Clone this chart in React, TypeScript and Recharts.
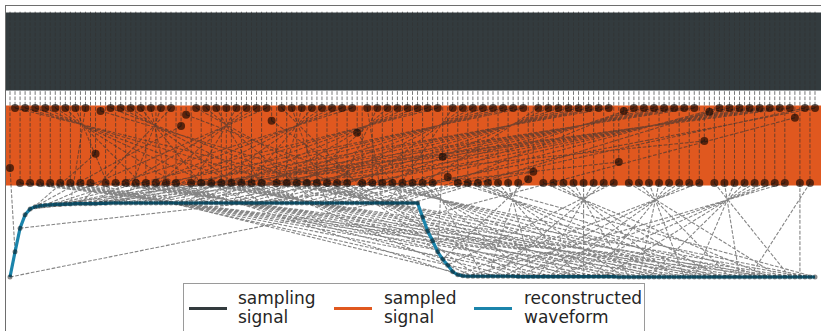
import React from 'react';
import { ComposedChart, XAxis, YAxis, Line, Scatter, ReferenceArea } from 'recharts';

// sample i is drawn at x = i, reconstructed position k at x = k
// sampled signal value per sample (1 = high level, 0 = low level)
const sampleValues = [
  0.2, 1, 0, 1, 0, 1, 0, 1, 0, 1, 0, 1, 0, 1, 0, 1, 0, 0.39, 0.96, 0,
  1, 0, 1, 0, 1, 0, 1, 0, 1, 0, 1, 0, 1, 0, 0.76, 0.91, 0, 1, 0, 1,
  0, 1, 0, 1, 0, 1, 0, 1, 0, 1, 0, 1, 0.83, 0, 1, 0, 1, 0, 1, 0,
  1, 0, 1, 0, 1, 0, 1, 0, 1, 0.67, 0, 1, 0, 1, 0, 1, 0, 1, 0, 1,
  0, 1, 0, 1, 0, 1, 0.35, 0.08, 1, 0, 1, 0, 1, 0, 1, 0, 1, 0, 1, 0,
  1, 0, 1, 0.05, 0.15, 1, 0, 1, 0, 1, 0, 1, 0, 1, 0, 1, 0, 1, 0, 1,
  0, 0.28, 0.96, 0, 1, 0, 1, 0, 1, 0, 1, 0, 1, 0, 1, 0, 1, 0, 0.56, 0.95,
  0, 1, 0, 1, 0, 1, 0, 1, 0, 1, 0, 1, 0, 1, 0, 1, 0.87, 0, 1, 0,
  1,
];

// reconstructed waveform, one value per position
const reconValues = [
  0, 0.34, 0.66, 0.84, 0.92, 0.95, 0.96, 0.97, 0.975, 0.98, 0.98, 0.985, 0.985, 0.99, 0.99, 0.99, 0.99, 0.99, 0.995, 0.995,
  1, 1, 1, 1, 1, 1, 1, 1, 1, 1, 1, 1, 1, 1, 1, 1, 1, 1, 1, 1,
  1, 1, 1, 1, 1, 1, 1, 1, 1, 1, 1, 1, 1, 1, 1, 1, 1, 1, 1, 1,
  1, 1, 1, 1, 1, 1, 1, 1, 1, 1, 1, 1, 1, 1, 1, 1, 1, 1, 1, 1,
  1, 1, 0.81, 0.62, 0.49, 0.34, 0.24, 0.16, 0.07, 0.03, 0.015, 0.01, 0.01, 0.01, 0.01, 0.01, 0.01, 0.01, 0.01, 0.01,
  0.01, 0.005, 0.005, 0.005, 0.005, 0.005, 0.005, 0.005, 0.005, 0.005, 0.005, 0.005, 0.005, 0.005, 0.005, 0.005, 0.005, 0.005, 0.005, 0.005,
  0.005, 0, 0, 0, 0, 0, 0, 0, 0, 0, 0, 0, 0, 0, 0, 0, 0, 0, 0, 0,
  0, 0, 0, 0, 0, 0, 0, 0, 0, 0, 0, 0, 0, 0, 0, 0, 0, 0, 0, 0,
  0,
];

// which sample lands at each reconstructed position (sorted by phase)
const phaseOrder = [
  104, 0, 121, 17, 138, 34, 155, 51, 68, 85, 102,
  119, 15, 136, 32, 153, 49, 66, 83, 100,
  117, 13, 134, 30, 151, 47, 64, 81, 98,
  115, 11, 132, 28, 149, 45, 62, 79, 96,
  113, 9, 130, 26, 147, 43, 60, 77, 94,
  111, 7, 128, 24, 145, 41, 58, 75, 92,
  109, 5, 126, 22, 143, 39, 160, 56, 73, 90,
  107, 3, 124, 20, 141, 37, 158, 54, 71, 88,
  105, 1, 122, 18, 139, 35, 156, 52,
  69, 86, 103,
  120, 16, 137, 33, 154, 50, 67, 84, 101,
  118, 14, 135, 31, 152, 48, 65, 82, 99,
  116, 12, 133, 29, 150, 46, 63, 80, 97,
  114, 10, 131, 27, 148, 44, 61, 78, 95,
  112, 8, 129, 25, 146, 42, 59, 76, 93,
  110, 6, 127, 23, 144, 40, 57, 74, 91,
  108, 4, 125, 21, 142, 38, 159, 55, 72, 89,
  106, 2, 123, 19, 140, 36, 157, 53, 70, 87,
];

const legendLabels = [
  ['sampling', 'signal'],
  ['sampled', 'signal'],
  ['reconstructed', 'waveform'],
];

// colours
const DARK = '#333b3e';
const ORANGE = '#e0581f';
const BLUE = '#1b84ab';
const LINK = '#333333';

// lanes (y units: reconstructed waveform 0..1)
const X_MIN = -0.795;
const X_MAX = 161.19;
const Y_MIN = -0.73;
const Y_MAX = 3.662;
const SAMPLED_BASE = 1.27;
const SAMPLED_SPAN = 1.0135;
const ORANGE_BAND = [1.236, 2.318];
const DARK_BAND = [2.52, 3.574];
const SAMPLING_TOP = 3.585;

const sampleY = (v: number) => SAMPLED_BASE + v * SAMPLED_SPAN;

const dotPoints = sampleValues.map((v, i) => ({ x: i, y: sampleY(v) }));
const reconPoints = reconValues.map((v, k) => ({ x: k, y: v }));
const verticalLinks = sampleValues.flatMap((v, i) => [
  { x: i, y: SAMPLING_TOP },
  { x: i, y: sampleY(v) },
  { x: i, y: null },
]);
const phaseLinks = phaseOrder.flatMap((i, k) => [
  { x: i, y: sampleY(sampleValues[i]) },
  { x: k, y: reconValues[k] },
  { x: k, y: null },
]);

const SampleDot = (props: any) => (
  <circle cx={props.cx} cy={props.cy} r={4} fill="#000" fillOpacity={0.6} />
);

const swatchLeft = [5, 150, 290];
const textLeft = [54, 200, 340];
const swatchColors = [DARK, ORANGE, BLUE];

export default function App() {
  return (
    <div style={{ position: 'absolute', left: 0, top: 0, width: 821, height: 331, overflow: 'hidden', background: '#fff' }}>
      <ComposedChart width={821} height={331} margin={{ top: 6, right: 0, bottom: 0, left: 6 }}>
        <XAxis type="number" dataKey="x" domain={[X_MIN, X_MAX]} hide allowDataOverflow />
        <YAxis type="number" dataKey="y" domain={[Y_MIN, Y_MAX]} hide allowDataOverflow />
        <ReferenceArea x1={X_MIN} x2={X_MAX} y1={DARK_BAND[0]} y2={DARK_BAND[1]} fill={DARK} fillOpacity={1} stroke="none" />
        <ReferenceArea x1={X_MIN} x2={X_MAX} y1={ORANGE_BAND[0]} y2={ORANGE_BAND[1]} fill={ORANGE} fillOpacity={1} stroke="none" />
        <Line
          data={verticalLinks}
          dataKey="y"
          stroke={LINK}
          strokeOpacity={0.65}
          strokeWidth={1}
          strokeDasharray="3.7 1.6"
          dot={false}
          activeDot={false}
          connectNulls={false}
          isAnimationActive={false}
        />
        <Line
          data={phaseLinks}
          dataKey="y"
          stroke={LINK}
          strokeOpacity={0.6}
          strokeWidth={1.1}
          strokeDasharray="3.7 1.6"
          dot={false}
          activeDot={false}
          connectNulls={false}
          isAnimationActive={false}
        />
        <Scatter data={dotPoints} dataKey="y" shape={SampleDot} isAnimationActive={false} />
        <Line
          data={reconPoints}
          dataKey="y"
          stroke={BLUE}
          strokeWidth={3.2}
          dot={{ r: 2.5, fill: '#000', fillOpacity: 0.45, stroke: 'none' }}
          activeDot={false}
          isAnimationActive={false}
        />
      </ComposedChart>

      <div style={{ position: 'absolute', left: 5, top: 5, width: 840, height: 340, border: '1.5px solid #6e6e6e', boxSizing: 'border-box', pointerEvents: 'none' }} />

      <div
        style={{
          position: 'absolute',
          left: 183,
          top: 283,
          width: 462,
          height: 60,
          border: '1.5px solid #9a9a9a',
          boxSizing: 'border-box',
          background: '#fff',
          fontFamily: '"DejaVu Sans", sans-serif',
          fontSize: 17,
          lineHeight: '19px',
          color: '#262626',
        }}
      >
        {legendLabels.map((lines, n) => (
          <React.Fragment key={n}>
            <div style={{ position: 'absolute', left: swatchLeft[n], top: 22.5, width: 38, height: 3.5, background: swatchColors[n] }} />
            <div style={{ position: 'absolute', left: textLeft[n], top: 4.5, whiteSpace: 'nowrap' }}>
              {lines[0]}
              <br />
              {lines[1]}
            </div>
          </React.Fragment>
        ))}
      </div>
    </div>
  );
}
